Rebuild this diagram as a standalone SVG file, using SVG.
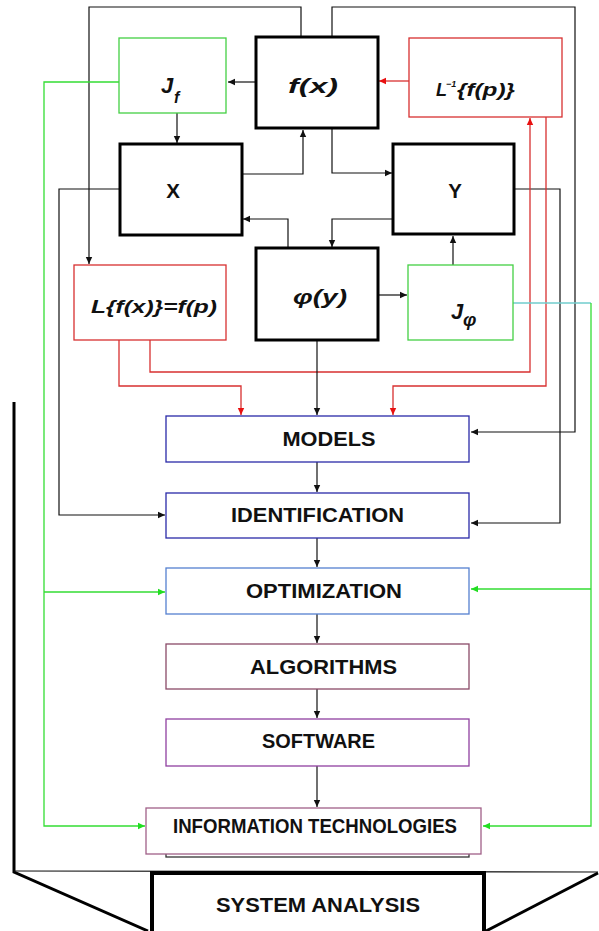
<svg xmlns="http://www.w3.org/2000/svg" width="599" height="931" viewBox="0 0 599 931">
<defs>
<marker id="ak" markerWidth="8" markerHeight="8" refX="7" refY="4" orient="auto" markerUnits="userSpaceOnUse"><path d="M0,0.8 L7,4 L0,7.2 Z" fill="#111"/></marker>
<marker id="ar" markerWidth="8" markerHeight="8" refX="7" refY="4" orient="auto" markerUnits="userSpaceOnUse"><path d="M0,0.8 L7,4 L0,7.2 Z" fill="#e81010"/></marker>
<marker id="ag" markerWidth="8" markerHeight="8" refX="7" refY="4" orient="auto" markerUnits="userSpaceOnUse"><path d="M0,0.8 L7,4 L0,7.2 Z" fill="#22dd22"/></marker>
</defs>
<style>
.thick{fill:#fff;stroke:#000;stroke-width:3}
.gbox{fill:#fff;stroke:#44d044;stroke-width:1.3}
.rbox{fill:#fff;stroke:#d83030;stroke-width:1.3}
.k{fill:none;stroke:#111;stroke-width:1.2;marker-end:url(#ak)}
.r{fill:none;stroke:#d83030;stroke-width:1.3;marker-end:url(#ar)}
.g{fill:none;stroke:#33dd33;stroke-width:1.3;marker-end:url(#ag)}
.lab{font-family:"Liberation Sans",Arial,sans-serif;font-weight:bold;font-size:20.5px;fill:#111;text-anchor:middle}
.math{font-family:"Liberation Sans",Arial,sans-serif;font-weight:bold;font-style:italic;fill:#111}
</style>
<rect width="599" height="931" fill="#fff"/>

<g id="connectors">
<polyline class="k" points="256,82 228,82"/>
<polyline class="r" points="409,81 379,81"/>
<polyline class="k" points="177,113 177,143"/>
<polyline class="k" points="242,174 303,174 303,130"/>
<polyline class="k" points="332,128 332,173 392,173"/>
<polyline class="k" points="288,248 288,219 243,219"/>
<polyline class="k" points="393,219 332,219 332,247"/>
<polyline class="k" points="453,265 453,236"/>
<polyline class="k" points="378,295 407,295"/>
<polyline class="k" points="301,37 301,7 89,7 89,264"/>
<polyline class="k" points="332,37 332,7 575,7 575,432 471,432"/>
<polyline class="k" points="120,189 59,189 59,515 165,515"/>
<polyline class="k" points="514,189 560,189 560,523 471,523"/>
<polyline class="r" points="150,340 150,372 530,372 530,118"/>
<polyline class="r" points="119,340 119,386 241,386 241,415"/>
<polyline class="r" points="546,117 546,386 393,386 393,415"/>
<polyline class="k" points="317,340 317,415"/>
<polyline class="k" points="317,462 317,492"/>
<polyline class="k" points="317,538 317,567"/>
<polyline class="k" points="317,614 317,643"/>
<polyline class="k" points="317,689 317,718"/>
<polyline class="k" points="317,766 317,807"/>
<polyline class="g" points="119,82 44,82 44,826 145,826"/>
<polyline class="g" points="44,592 165,592"/>
<polyline fill="none" stroke="#70cccc" stroke-width="1.3" points="513,303 591,303"/>
<polyline class="g" points="591,303 591,826 483,826"/>
<polyline class="g" points="591,589 471,589"/>
</g>

<g id="Jf"><rect class="gbox" x="119" y="38" width="107" height="75"/>
<text class="math" x="161" y="93" font-size="22">J</text><text class="math" x="174" y="103" font-size="16">f</text></g>

<g id="fx"><rect class="thick" x="256" y="37" width="122" height="91"/>
<text class="math" x="313" y="93" font-size="21" text-anchor="middle" textLength="50" lengthAdjust="spacingAndGlyphs">f(x)</text></g>

<g id="Linv"><rect class="rbox" x="409" y="38" width="153" height="79"/>
<text class="math" x="436" y="96" font-size="18">L</text><text class="math" x="446" y="87" font-size="9">−1</text><text class="math" x="457" y="96" font-size="18" textLength="58" lengthAdjust="spacingAndGlyphs">{f(p)}</text></g>

<g id="X"><rect class="thick" x="120" y="144" width="122" height="91"/>
<text class="lab" x="173" y="198" font-size="25">X</text></g>

<g id="Y"><rect class="thick" x="393" y="144" width="121" height="90"/>
<text class="lab" x="455" y="198" font-size="25">Y</text></g>

<g id="L"><rect class="rbox" x="74" y="265" width="152" height="75"/>
<text class="math" x="91" y="313" font-size="19" textLength="126" lengthAdjust="spacingAndGlyphs">L{f(x)}=f(p)</text></g>

<g id="phi"><rect class="thick" x="256" y="248" width="122" height="92"/>
<text class="math" x="320" y="304" font-size="21" text-anchor="middle" textLength="54" lengthAdjust="spacingAndGlyphs">φ(y)</text></g>

<g id="Jphi"><rect class="gbox" x="408" y="265" width="105" height="75"/>
<text class="math" x="451" y="319" font-size="22">J</text><text class="math" x="463" y="326" font-size="19">φ</text></g>

<g id="models"><rect fill="#fff" stroke="#2a2aa8" stroke-width="1.3" x="166" y="416" width="303" height="46"/>
<text class="lab" x="329" y="446" textLength="93" lengthAdjust="spacingAndGlyphs">MODELS</text></g>

<g id="identification"><rect fill="#fff" stroke="#2a2aa8" stroke-width="1.3" x="166" y="493" width="303" height="45"/>
<text class="lab" x="317.5" y="522" textLength="173" lengthAdjust="spacingAndGlyphs">IDENTIFICATION</text></g>

<g id="optimization"><rect fill="#fff" stroke="#5580d0" stroke-width="1.3" x="166" y="568" width="303" height="46"/>
<text class="lab" x="324" y="598" textLength="156" lengthAdjust="spacingAndGlyphs">OPTIMIZATION</text></g>

<g id="algorithms"><rect fill="#fff" stroke="#8a4a68" stroke-width="1.3" x="166" y="644" width="303" height="45"/>
<text class="lab" x="323.5" y="674" textLength="147" lengthAdjust="spacingAndGlyphs">ALGORITHMS</text></g>

<g id="software"><rect fill="#fff" stroke="#9040a0" stroke-width="1.3" x="166" y="719" width="303" height="47"/>
<text class="lab" x="318.5" y="748" textLength="113" lengthAdjust="spacingAndGlyphs">SOFTWARE</text></g>

<g id="infotech"><rect fill="#fff" stroke="#333" stroke-width="1.3" x="166" y="812" width="303" height="45"/>
<rect fill="#fff" stroke="#a06088" stroke-width="1.3" x="146" y="808" width="335" height="46"/>
<text class="lab" x="315" y="833" font-size="19" textLength="284" lengthAdjust="spacingAndGlyphs">INFORMATION TECHNOLOGIES</text></g>

<g id="systemanalysis">
<polyline fill="none" stroke="#000" stroke-width="3" points="14,402 14,872 148,931"/>
<line x1="14" y1="871" x2="598" y2="872" stroke="#111" stroke-width="1.2"/>
<line x1="598" y1="873" x2="486" y2="931" stroke="#000" stroke-width="3"/>
<rect fill="#fff" stroke="#000" stroke-width="4" x="152" y="873" width="332" height="64"/>
<text class="lab" x="318" y="912" font-size="21" textLength="204" lengthAdjust="spacingAndGlyphs">SYSTEM ANALYSIS</text></g>
</svg>
